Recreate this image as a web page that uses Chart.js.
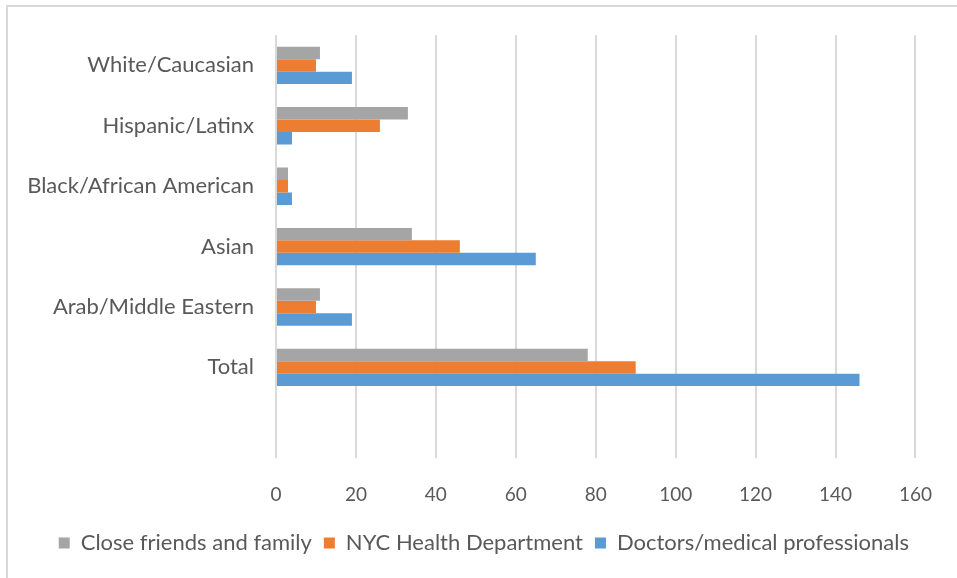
<!DOCTYPE html>
<html>
<head>
<meta charset="utf-8">
<script src="https://cdn.jsdelivr.net/npm/chart.js@4/dist/chart.umd.min.js"></script>
<style>
    html, body { margin: 0; padding: 0; background: #fff; overflow: hidden; }
    #wrap { position: relative; width: 957px; height: 578px; }
    #frame { position: absolute; left: 6px; top: 5px; width: 1100px; height: 1100px; border: 2px solid #d9d9d9; box-sizing: border-box; }
    #chartBox { position: absolute; left: 0; top: 0; width: 957px; height: 578px; }
</style>
</head>
<body>
<div id="wrap">
    <div id="frame"></div>
    <div id="chartBox"><canvas id="chartBar"></canvas></div>
</div>
<script>
// Categorías (de arriba hacia abajo); la última queda vacía como en el original
const categorias = ['White/Caucasian', 'Hispanic/Latinx', 'Black/African American', 'Asian', 'Arab/Middle Eastern', 'Total', ''];

// Series
const amigosFamilia = [11, 33, 3, 34, 11, 78, null];
const deptoSalud = [10, 26, 3, 46, 10, 90, null];
const doctores = [19, 4, 4, 65, 19, 146, null];

const seriesNombres = ['Close friends and family', 'NYC Health Department', 'Doctors/medical professionals'];

// Eje X
const xMin = 0;
const xMax = 160;
const xPaso = 20;

const FUENTE = 'Lato, "Open Sans", sans-serif';
const TEXTO = '#595959';
const REJILLA = '#d9d9d9';

const ctx = document.getElementById('chartBar').getContext('2d');
const barChart = new Chart(ctx, {
    type: 'bar',
    data: {
        labels: categorias,
        datasets: [
            { label: seriesNombres[0], data: amigosFamilia, backgroundColor: '#A5A5A5' },
            { label: seriesNombres[1], data: deptoSalud, backgroundColor: '#ED7D31' },
            { label: seriesNombres[2], data: doctores, backgroundColor: '#5B9BD5' }
        ]
    },
    options: {
        indexAxis: 'y',
        responsive: true,
        maintainAspectRatio: false,
        animation: false,
        layout: { padding: { top: 35, right: 36, left: 0, bottom: 14 } },
        datasets: {
            bar: { barPercentage: 1, categoryPercentage: 0.62 }
        },
        plugins: {
            legend: {
                display: true,
                position: 'bottom',
                align: 'end',
                labels: {
                    boxWidth: 11,
                    boxHeight: 11,
                    padding: 12,
                    color: TEXTO,
                    font: { family: FUENTE, size: 22 }
                }
            },
            tooltip: { enabled: false }
        },
        scales: {
            x: {
                min: xMin,
                max: xMax,
                ticks: { stepSize: xPaso, color: TEXTO, padding: 25, font: { family: FUENTE, size: 19 } },
                grid: { color: REJILLA, lineWidth: 2, drawTicks: false },
                border: { display: false },
                afterFit: (scale) => { scale.height = 62; }
            },
            y: {
                ticks: { color: TEXTO, padding: 22, font: { family: FUENTE, size: 22 } },
                grid: { display: false, drawTicks: false },
                border: { display: false },
                afterFit: (scale) => { scale.width = 276; }
            }
        }
    }
});
</script>
</body>
</html>
